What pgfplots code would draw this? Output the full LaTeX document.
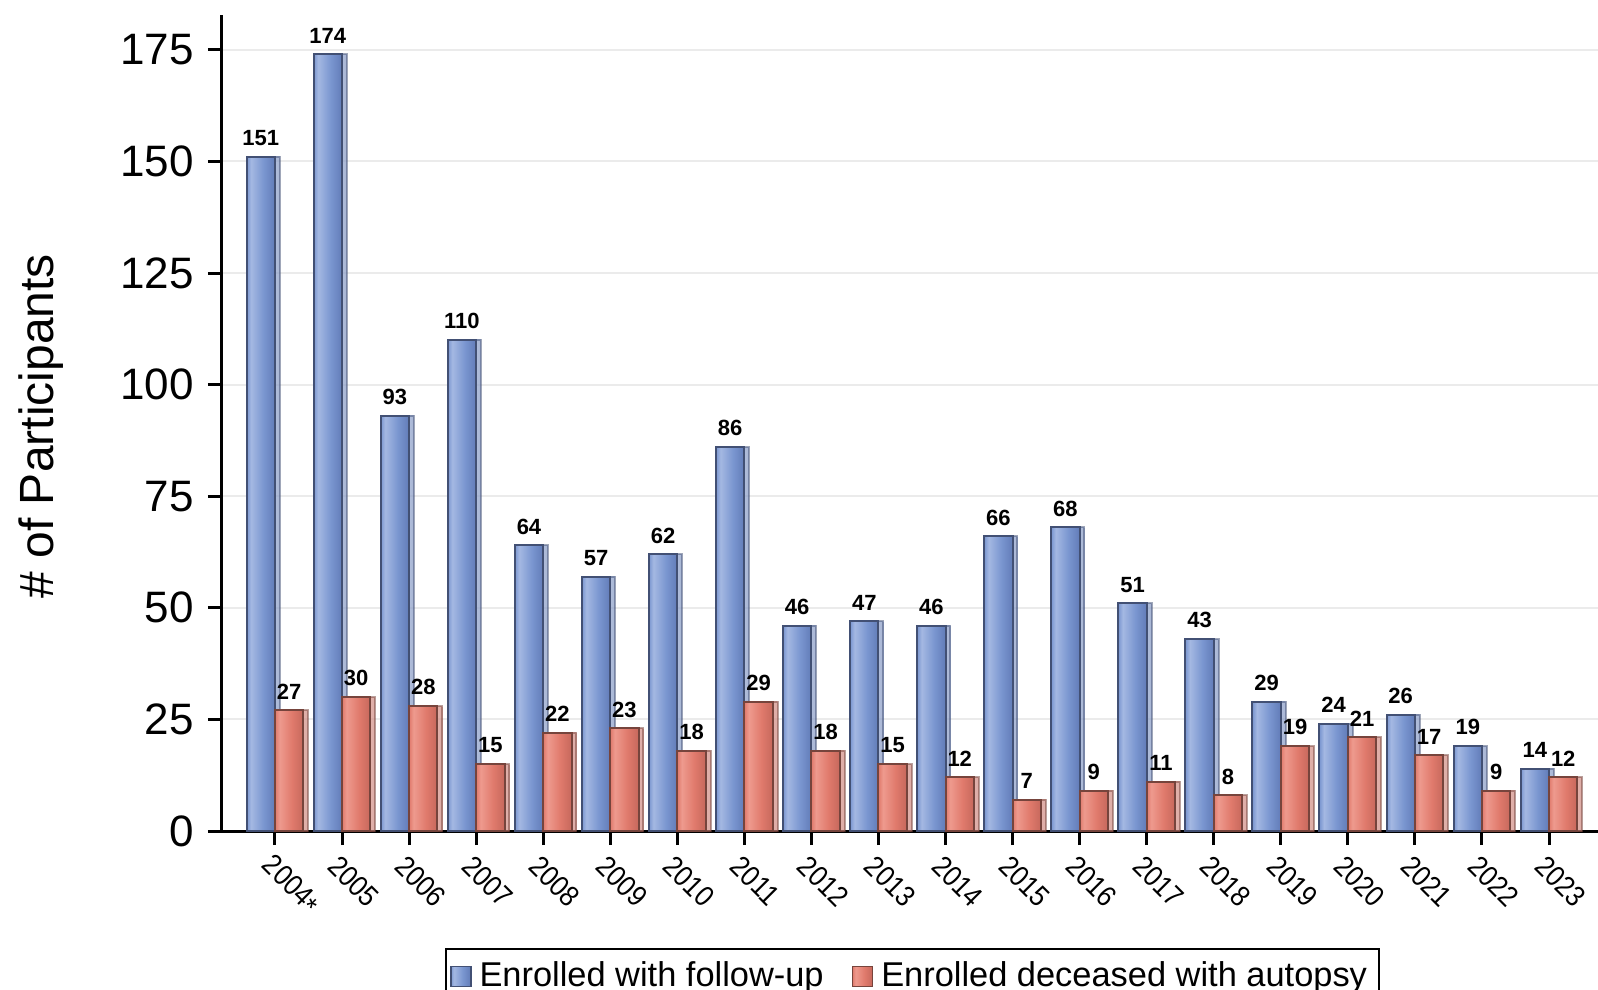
\documentclass[border=0pt]{standalone}
\usepackage{fontspec}
\setmainfont{Liberation Sans}
\newfontfamily\narrowfont[FakeStretch=0.88]{Liberation Sans}
\usepackage{pgfplots}
\usepackage{pgfplotstable}
\pgfplotsset{compat=1.18}
\usetikzlibrary{shadows}
\definecolor{blueL}{RGB}{164,184,226}
\definecolor{blueM}{RGB}{122,150,208}
\definecolor{blueD}{RGB}{98,124,184}
\definecolor{blueB}{RGB}{66,80,116}
\definecolor{redL}{RGB}{238,154,142}
\definecolor{redM}{RGB}{224,122,108}
\definecolor{redD}{RGB}{198,104,92}
\definecolor{redB}{RGB}{118,68,60}
\pgfdeclarehorizontalshading{blueshade}{100bp}{color(0bp)=(blueM); color(25bp)=(blueM); color(33bp)=(blueL); color(55bp)=(blueM); color(75bp)=(blueD); color(100bp)=(blueD)}
\pgfdeclarehorizontalshading{redshade}{100bp}{color(0bp)=(redM); color(25bp)=(redM); color(33bp)=(redL); color(55bp)=(redM); color(75bp)=(redD); color(100bp)=(redD)}
\pgfplotstableread{
x b r
0 151 27
1 174 30
2 93 28
3 110 15
4 64 22
5 57 23
6 62 18
7 86 29
8 46 18
9 47 15
10 46 12
11 66 7
12 68 9
13 51 11
14 43 8
15 29 19
16 24 21
17 26 17
18 19 9
19 14 12
}\datatable
\begin{document}
\begin{tikzpicture}
\useasboundingbox (0,0) rectangle (399.5pt,247.25pt);
\clip (0,0) rectangle (399.5pt,247.25pt);
\begin{axis}[
  at={(55.5pt,39.5pt)}, anchor=south west,
  scale only axis, width=344pt, height=204pt,
  ymin=0, ymax=182.8, xmin=-0.79, xmax=19.73,
  axis lines=left,
  axis line style={-, line width=0.75pt, black},
  ytick={0,25,...,175},
  xtick={0,...,19},
  xticklabels={2004\raisebox{-0.3ex}{*},2005,2006,2007,2008,2009,2010,2011,2012,2013,2014,2015,2016,2017,2018,2019,2020,2021,2022,2023},
  tick align=outside, major tick length=3.5pt,
  tick style={black, line width=0.75pt},
  ymajorgrids, grid style={line width=0.5pt, color=black!8},
  /pgf/number format/assume math mode=true,
  yticklabel style={font=\fontsize{11}{13}\selectfont},
  xticklabel style={font=\narrowfont\fontsize{7.3}{8.5}\selectfont, xshift=-4.6pt, yshift=-1.6pt, rotate=-45, anchor=west},
  ylabel={\# of Participants},
  ylabel style={at={(axis description cs:-0.1315,0.496)}, anchor=center, font=\fontsize{12}{14}\selectfont},
  every node near coord/.append style={font=\fontsize{5.5}{6}\selectfont\bfseries, inner sep=0pt, yshift=2.5pt, black},
  legend style={at={(0.5018,0)}, anchor=north, yshift=-29.25pt, draw=black, line width=0.6pt,
    font=\fontsize{8.6}{10}\selectfont, inner sep=1pt,
    /tikz/every even column/.append style={column sep=5pt}},
  legend columns=2,
  legend image code/.code={\draw[#1, line width=0.4pt] (0pt,-2.5pt) rectangle (5pt,2.5pt);},
]
\pgfplotsinvokeforeach{0,...,19}{
  \addplot[forget plot, ybar, bar width=7.1pt, bar shift=-3.55pt, draw=blueB, line width=0.5pt,
    shading=blueshade, drop shadow={shadow xshift=1.2pt, shadow yshift=0pt, fill=black!10},
    nodes near coords, every node near coord/.append style={xshift=-3.55pt},
    restrict x to domain=#1:#1] table[x=x, y=b] {\datatable};
}
\pgfplotsinvokeforeach{0,...,19}{
  \addplot[forget plot, ybar, bar width=7.1pt, bar shift=3.55pt, draw=redB, line width=0.5pt,
    shading=redshade, drop shadow={shadow xshift=1.2pt, shadow yshift=0pt, fill=black!10},
    nodes near coords, every node near coord/.append style={xshift=3.55pt},
    restrict x to domain=#1:#1] table[x=x, y=r] {\datatable};
}
\addlegendimage{draw=blueB, shading=blueshade}
\addlegendentry{Enrolled with follow-up}
\addlegendimage{draw=redB, shading=redshade}
\addlegendentry{Enrolled deceased with autopsy}
\end{axis}
\end{tikzpicture}
\end{document}
